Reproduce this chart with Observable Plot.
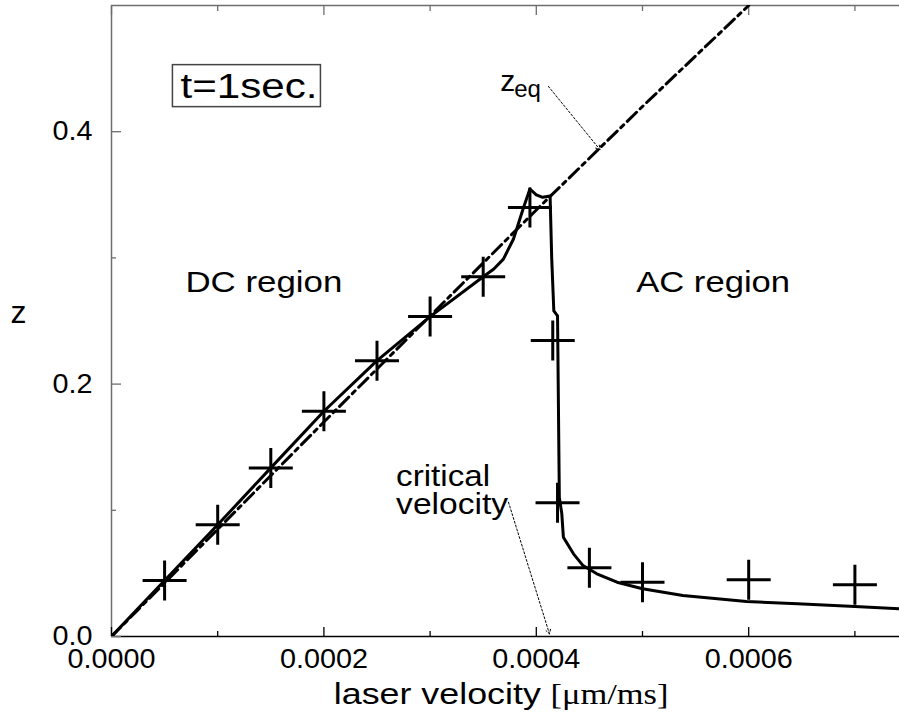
<!DOCTYPE html>
<html><head><meta charset="utf-8">
<script src="https://cdn.jsdelivr.net/npm/d3@7"></script>
<script src="https://cdn.jsdelivr.net/npm/@observablehq/plot@0.6"></script>
<style>body{margin:0;background:#fff}</style>
</head><body><div id="chart"></div>
<script>
// ---- data ----
const solidV = [0, 0.00005, 0.0001, 0.00015, 0.0002, 0.00025, 0.0003, 0.00035, 0.00036, 0.000369, 0.0003785, 0.000388, 0.000394, 0.0004, 0.000406, 0.000413, 0.0004145, 0.0004165, 0.00042, 0.0004217, 0.000424, 0.0004255, 0.000435, 0.000444, 0.000457, 0.000476, 0.0005, 0.000538, 0.000598, 0.000646, 0.0007, 0.000742];
const solidZ = [0, 0.0444, 0.0885, 0.1336, 0.1785, 0.2186, 0.2535, 0.2851, 0.2912, 0.299, 0.315, 0.340, 0.3546, 0.350, 0.348, 0.349, 0.300, 0.258, 0.254, 0.110, 0.0974, 0.0787, 0.0655, 0.0562, 0.0497, 0.043, 0.0378, 0.0325, 0.0277, 0.0259, 0.0238, 0.0219];

const zeqV = [0, 0.0001, 0.0002, 0.0003, 0.0004, 0.0005, 0.0006];
const zeqZ = [0, 0.085, 0.17, 0.254, 0.338, 0.42, 0.5];

const markV = [0.00005, 0.0001, 0.00015, 0.0002, 0.00025, 0.0003, 0.00035, 0.000394, 0.0004155, 0.00042, 0.00045, 0.0005, 0.0006, 0.0007];
const markZ = [0.0444, 0.0885, 0.1336, 0.1785, 0.2186, 0.2535, 0.2851, 0.340, 0.2345, 0.1059, 0.0544, 0.043, 0.0449, 0.041];

const xMajor = [0, 0.0002, 0.0004, 0.0006];
const xMinor = [0.0001, 0.0003, 0.0005, 0.0007];
const yMajor = [0, 0.2, 0.4];
const yMinor = [0.1, 0.3];

const notesBig = [{text: "t=1sec.", v: 0.0000649, z: 0.427}];
const notes = [
  {text: "DC region", v: 0.0000696, z: 0.2727},
  {text: "AC region", v: 0.000494, z: 0.2727},
  {text: "critical", v: 0.000268, z: 0.1196},
  {text: "velocity", v: 0.000268, z: 0.0974}
];
const zeqLabel = [{text: "z", sub: "eq", v: 0.000366, z: 0.4325}];
const arrows = [
  {v1: 0.0004114, z1: 0.4359, v2: 0.00046, z2: 0.3857},
  {v1: 0.0003738, z1: 0.1064, v2: 0.0004124, z2: 0.0021}
];

// ---- tables ----
const solid = solidV.map((v, i) => ({v, z: solidZ[i]}));
const zeq = zeqV.map((v, i) => ({v, z: zeqZ[i]}));
const marks = markV.map((v, i) => ({v, z: markZ[i]}));

const plusSym = {draw(ctx, size) {
  const r = Math.sqrt(size / Math.PI);
  ctx.moveTo(-r * 1.1, 0); ctx.lineTo(r * 1.1, 0);
  ctx.moveTo(0, -r); ctx.lineTo(0, r);
}};

const gray = "#6e6e6e";
const sans = "'Liberation Sans', Arial, sans-serif";
const empty = () => "";

const chart = Plot.plot({
  width: 899, height: 715,
  marginLeft: 111, marginRight: 0, marginTop: 5, marginBottom: 79,
  style: {fontFamily: sans, background: "#fff", color: "#000", overflow: "visible"},
  x: {domain: [0, 0.000742]},
  y: {domain: [0, 0.5]},
  marks: [
    Plot.ruleX([0], {stroke: gray, strokeWidth: 1.5}),
    Plot.ruleY([0.5], {stroke: gray, strokeWidth: 1.5}),
    Plot.ruleY([0], {stroke: "#000", strokeWidth: 1.5}),
    // bottom axis
    Plot.axisX({anchor: "bottom", ticks: xMajor, tickSize: 0, tickPadding: 12, tickFormat: d3.format(".4f"), fontSize: 27, label: null}),
    Plot.axisX({anchor: "bottom", ticks: xMajor, tickSize: -9, tickFormat: empty, label: null, strokeWidth: 1.3}),
    Plot.axisX({anchor: "bottom", ticks: xMinor, tickSize: -5, tickFormat: empty, label: null, strokeWidth: 1.3}),
    // top ticks
    Plot.axisX({anchor: "top", ticks: xMajor, tickSize: -9, tickFormat: empty, label: null, stroke: gray, strokeWidth: 1.3}),
    Plot.axisX({anchor: "top", ticks: xMinor, tickSize: -5, tickFormat: empty, label: null, stroke: gray, strokeWidth: 1.3}),
    // left axis
    Plot.axisY({anchor: "left", ticks: yMajor, tickSize: 0, tickPadding: 19, tickFormat: d3.format(".1f"), fontSize: 27, label: null}),
    Plot.axisY({anchor: "left", ticks: yMajor, tickSize: -10, tickFormat: empty, label: null, stroke: gray, strokeWidth: 1.3}),
    Plot.axisY({anchor: "left", ticks: yMinor, tickSize: -5, tickFormat: empty, label: null, stroke: gray, strokeWidth: 1.3}),
    // data
    Plot.line(zeq, {x: "v", y: "z", stroke: "#000", strokeWidth: 3, strokeDasharray: "13,5,4,5", clip: true}),
    Plot.line(solid, {x: "v", y: "z", stroke: "#000", strokeWidth: 3, strokeLinejoin: "round", clip: true}),
    Plot.dot(marks, {x: "v", y: "z", symbol: plusSym, r: 20, stroke: "#000", strokeWidth: 3, fill: "none"}),
    // annotations
    Plot.arrow(arrows, {x1: "v1", y1: "z1", x2: "v2", y2: "z2", stroke: "#000", strokeWidth: 1, strokeDasharray: "2,2", headLength: 7}),
    Plot.text(notesBig, {x: "v", y: "z", text: "text", fontSize: 35, textAnchor: "start", lineAnchor: "bottom", fill: "#000"}),
    Plot.text(notes, {x: "v", y: "z", text: "text", fontSize: 30, textAnchor: "start", lineAnchor: "bottom", fill: "#000"}),
    Plot.text(zeqLabel, {x: "v", y: "z", text: "text", fontSize: 30, textAnchor: "start", lineAnchor: "bottom", fill: "#000"}),
    Plot.text(zeqLabel, {x: "v", y: "z", text: "sub", fontSize: 24, textAnchor: "start", lineAnchor: "bottom", dx: 14, dy: 6, fill: "#000"}),
    // axis titles
    Plot.text(["z"], {frameAnchor: "left", text: d => d, fontSize: 32, textAnchor: "start", lineAnchor: "bottom", dx: -101, dy: 1.5, fill: "#000"}),
    Plot.text(["laser velocity"], {frameAnchor: "bottom", text: d => d, fontSize: 30, textAnchor: "start", lineAnchor: "bottom", dx: -171.7, dy: 67.3, fill: "#000"}),
    Plot.text(["[\u03bcm/ms]"], {frameAnchor: "bottom", text: d => d, fontSize: 30, fontFamily: "'Liberation Serif', 'Times New Roman', serif", textAnchor: "start", lineAnchor: "bottom", dx: 45, dy: 67.3, fill: "#000"})
  ]
});
document.getElementById("chart").append(chart);

// stretch text widths to match the reference typography
const fit = {
  "t=1sec.": 137, "DC region": 157, "AC region": 154, "critical": 94, "velocity": 112,
  "laser velocity": 207, "[\u03bcm/ms]": 118, "z": null,
  "0.0000": 88, "0.0002": 88, "0.0004": 88, "0.0006": 88,
  "0.0": 40, "0.2": 40, "0.4": 40
};
chart.querySelectorAll("text").forEach(t => {
  const s = t.textContent;
  const w = fit[s];
  if (w) { t.setAttribute("textLength", w); t.setAttribute("lengthAdjust", "spacingAndGlyphs"); }
  if (s === "t=1sec.") {
    const bb = t.getBBox();
    const r = document.createElementNS("http://www.w3.org/2000/svg", "rect");
    r.setAttribute("x", bb.x - 8); r.setAttribute("y", bb.y - 1);
    r.setAttribute("width", bb.width + 11); r.setAttribute("height", bb.height + 3);
    r.setAttribute("fill", "none"); r.setAttribute("stroke", "#444"); r.setAttribute("stroke-width", 1.5);
    if (t.getAttribute("transform")) r.setAttribute("transform", t.getAttribute("transform"));
    t.parentNode.insertBefore(r, t);
  }
});
</script>
</body></html>
